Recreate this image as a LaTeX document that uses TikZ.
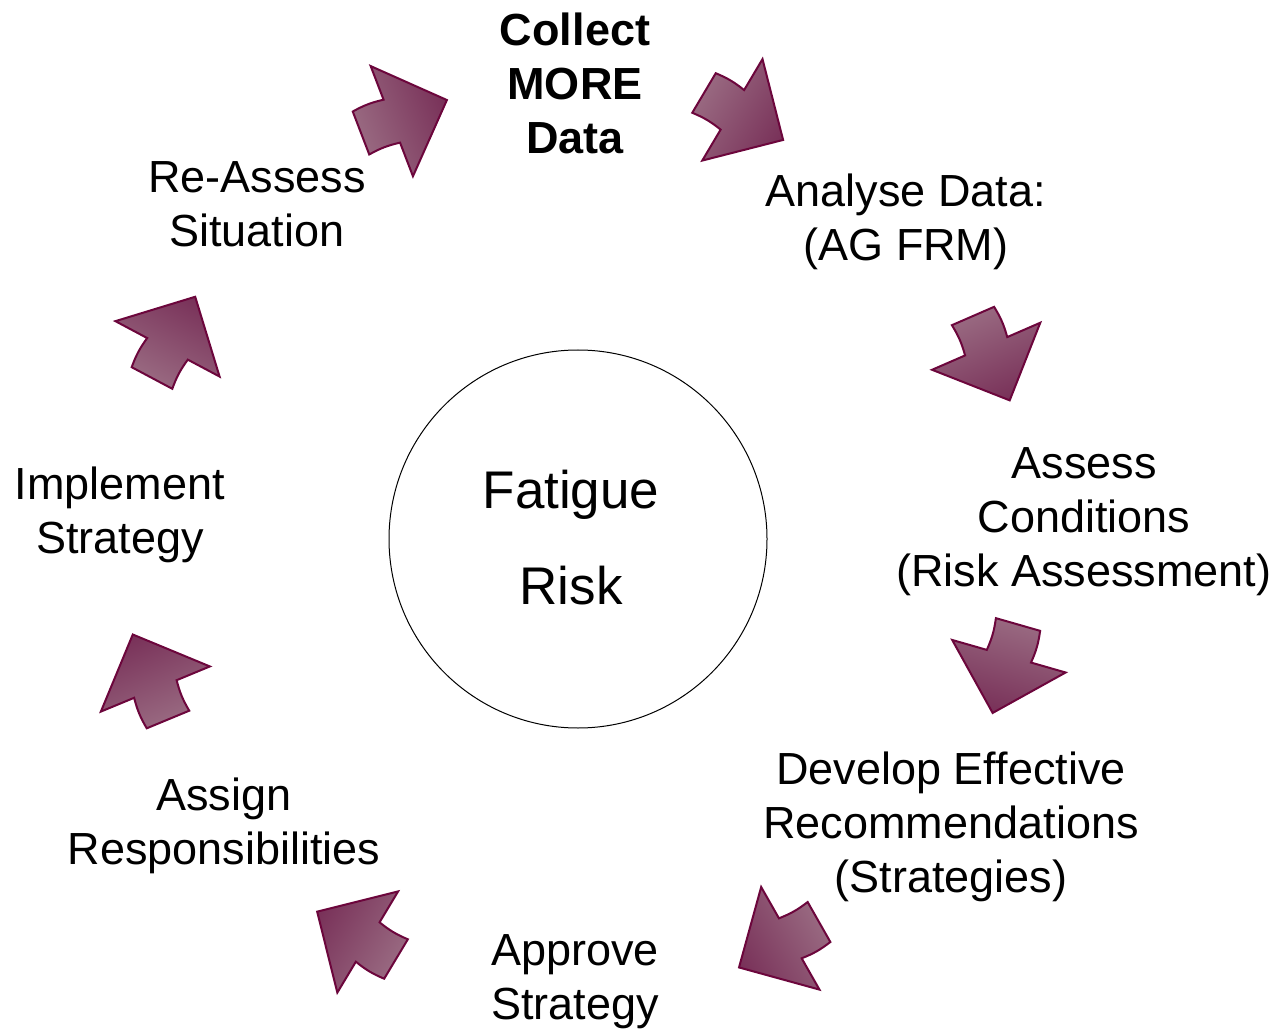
\documentclass[tikz,border=0pt]{standalone}
\usepackage{fontspec}
\setmainfont{Liberation Sans}
\usetikzlibrary{positioning}

\definecolor{plumlight}{RGB}{152,104,128}
\definecolor{plumdark}{RGB}{120,48,88}
\definecolor{plumedge}{RGB}{108,6,60}

\begin{document}
\begin{tikzpicture}[
  x=0.5pt, y=0.5pt,
  stage/.style={align=center,inner sep=0pt,font=\fontsize{22.5}{27}\selectfont},
  hub/.style={draw,circle,line width=0.5pt,minimum size=189pt,inner sep=0pt},
  hub text/.style={align=center,inner sep=0pt,font=\fontsize{26.5}{48}\selectfont},
  cycle arrow/.style={draw=plumedge,line width=1pt,line join=miter,
    left color=plumlight,right color=plumdark}
]
\useasboundingbox (0,0) rectangle (1277,1029);

\node[hub] (risk) at (578,490) {};
\node[hub text] (risklabel) at (571,491) {Fatigue\\Risk};

\node[stage,font=\fontsize{22.5}{27}\selectfont\bfseries] (collect) at (575,946) {Collect\\MORE\\Data};
\node[stage] (analyse) at (906,807) {Analyse Data:\\(AG FRM)};
\node[stage] (assess) at (1084,507) {Assess\\Conditions\\(Risk Assessment)};
\node[stage] (develop) at (951,202) {Develop Effective\\Recommendations\\(Strategies)};
\node[stage] (approve) at (575,47) {Approve\\Strategy};
\node[stage] (assign) at (224,203) {Assign\\Responsibilities};
\node[stage] (implement) at (120,514) {Implement\\Strategy};
\node[stage] (reassess) at (257,825) {Re-Assess\\Situation};

% block arrows round the cycle: tail centre and heading
\foreach \px/\py/\ang in {361/896/21, 704/936/-30.7, 973/713/-66.5, 1018/404.5/-106,
    819/107/-150.4, 396/70/149, 168/309.5/112.5, 152/651/62} {
  \begin{scope}[transform canvas={shift={(\px,\py)},rotate=\ang}]
    \draw[cycle arrow] (0,-23) -- (0,23) to[bend left=8] (33,23) -- (33,59)
      -- (92,0) -- (33,-59) -- (33,-23) to[bend right=8] cycle;
  \end{scope}
}
\end{tikzpicture}
\end{document}
